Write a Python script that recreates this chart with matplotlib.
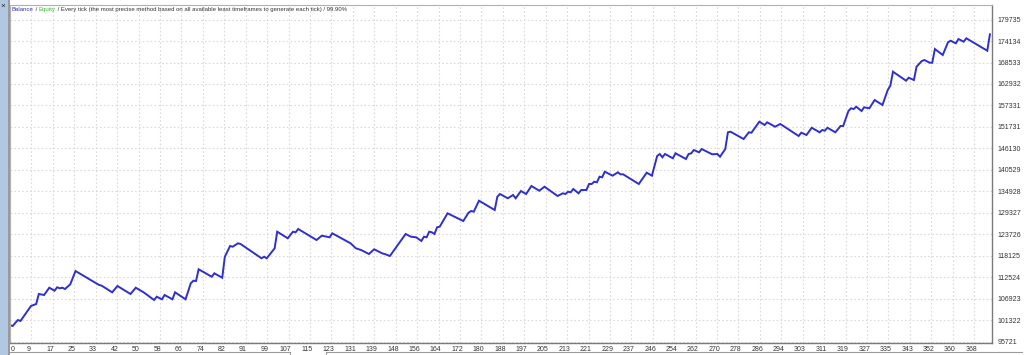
import matplotlib
matplotlib.use("Agg")
import matplotlib.pyplot as plt
from matplotlib.patches import Rectangle
from matplotlib.lines import Line2D
from matplotlib.transforms import ScaledTranslation
import numpy as np

# balance curve vertices (trade number, balance)
trades = [0, 1, 3, 4, 8, 10, 11, 13, 15, 17, 18, 19, 20, 21, 23, 25, 34, 35, 39, 41,
          46, 48, 51, 55, 56, 58, 59, 62, 63, 67, 69, 70, 71, 72, 77, 78, 81, 82, 84, 85,
          87, 88, 96, 97, 98, 101, 102, 106, 108, 109, 110, 117, 119, 121, 122, 123, 130, 132, 134, 137,
          139, 142, 143, 145, 151, 153, 155, 157, 158, 159, 160, 161, 162, 163, 164, 167, 173, 175, 176, 177,
          179, 185, 186, 187, 190, 192, 193, 195, 197, 199, 202, 204, 209, 211, 212, 213, 214, 215, 217, 218,
          220, 221, 222, 223, 224, 225, 226, 227, 230, 232, 233, 234, 240, 243, 245, 247, 248, 249, 250, 253,
          254, 258, 259, 260, 261, 263, 264, 268, 270, 271, 273, 274, 275, 280, 282, 283, 286, 288, 289, 292,
          294, 301, 302, 304, 306, 309, 310, 311, 312, 315, 317, 318, 320, 321, 322, 323, 325, 326, 328, 330,
          333, 335, 336, 337, 342, 343, 345, 346, 348, 349, 351, 352, 353, 356, 358, 359, 361, 362, 364, 365,
          373, 374]
balance = [100000, 99770, 101330, 101070, 104990, 105510, 108120, 107860, 109760, 108980, 109870, 109610, 109760, 109420, 110650, 114120, 110470, 110290, 108560, 110210,
           108120, 109760, 108560, 106550, 107410, 106740, 107860, 106740, 108560, 106740, 110910, 111590, 111510, 114570, 112630, 113520, 112370, 117850, 120650, 120460,
           121350, 121170, 117440, 117850, 117440, 120050, 124380, 122660, 124380, 124220, 125080, 122210, 123340, 123070, 122920, 123960, 121350, 120050, 119600, 118560,
           119790, 118740, 118560, 118040, 123780, 123070, 122920, 121960, 123070, 122920, 124380, 124220, 123780, 125530, 125680, 129180, 127170, 129340, 129780, 129600,
           132470, 130040, 133510, 134220, 133100, 133960, 133100, 135000, 134220, 136310, 135080, 136120, 133700, 134400, 134220, 134820, 134660, 135520, 134400, 135260,
           135260, 136830, 136830, 137430, 137270, 138730, 138580, 140040, 139000, 139880, 139360, 139360, 136830, 139780, 139000, 144140, 144660, 143800, 144660, 143540,
           144840, 143350, 144660, 144840, 145700, 145100, 145960, 144580, 144660, 143950, 145960, 150320, 150480, 148570, 150320, 150220, 153090, 152230, 152930, 151780,
           152490, 149360, 150220, 149620, 151520, 150320, 150920, 150740, 151520, 150320, 151970, 151970, 155880, 156590, 156400, 157000, 155880, 156850, 156590, 158750,
           157450, 161360, 162490, 166140, 163790, 164570, 163970, 167440, 168930, 169190, 168490, 168490, 172060, 170500, 173810, 174230, 173550, 174670, 173970, 174860,
           171620, 175900]

y_ticks = [95721, 101322, 106923, 112524, 118125, 123726, 129327, 134928, 140529, 146130,
           151731, 157331, 162932, 168533, 174134, 179735]
x_labels = [0, 9, 17, 25, 33, 42, 50, 58, 66, 74, 82, 91, 99, 107, 115, 123, 131, 139, 148, 156,
            164, 172, 180, 188, 197, 205, 213, 221, 229, 237, 246, 254, 262, 270, 278, 286, 294, 303,
            311, 319, 327, 335, 343, 352, 360, 368]

plt.rcParams['font.family'] = ['Liberation Sans', 'DejaVu Sans']

W, H = 1024, 355
fig = plt.figure(figsize=(W / 100, H / 100), dpi=100, facecolor="white")
ax = fig.add_axes([10 / W, 12 / H, 982 / W, 338 / H])

ax.plot(trades, balance, color="#2f2fcc", lw=1.4, solid_joinstyle="miter")

# regular grid, labels taken from the tester axis
x_pos = np.arange(len(x_labels)) * x_labels[-1] / (len(x_labels) - 1)
ax.set_xticks(x_pos)
ax.set_xticklabels([str(v) for v in x_labels])
ax.set_yticks(y_ticks)
ax.set_yticklabels([str(v) for v in y_ticks])
ax.set_xlim(0, 374.8)
ax.set_ylim(95330, 183550)

ax.yaxis.tick_right()
ax.tick_params(axis="both", labelsize=5, colors="#333333", length=0)
ax.tick_params(axis="y", pad=4)
ax.tick_params(axis="x", pad=2)
for i, lab in enumerate(ax.get_xticklabels()):
    dx = 2 if i == 0 else -2
    lab.set_transform(lab.get_transform() + ScaledTranslation(dx / 72, 0, fig.dpi_scale_trans))

ax.grid(True, color="#dadada", lw=0.8, linestyle=(0, (1.5, 2)))
ax.set_axisbelow(True)
for side in ["left", "top"]:
    ax.spines[side].set_color("#b0b0b0")
for side in ["right", "bottom"]:
    ax.spines[side].set_color("#7a7a7a")
    ax.spines[side].set_linewidth(1.0)

# legend line inside the chart
fs = 4.3
t1 = ax.text(2 / 982, 1 - 2 / 338, "Balance", transform=ax.transAxes, fontsize=fs,
             color="#3030a0", va="top", ha="left")
t2 = ax.annotate(" / ", xy=(1, 0), xycoords=t1, fontsize=fs, color="#333333", va="bottom")
t3 = ax.annotate("Equity", xy=(1, 0), xycoords=t2, fontsize=fs, color="#2eb82e", va="bottom")
ax.annotate(" / Every tick (the most precise method based on all available least timeframes to generate each tick) / 99.90%",
            xy=(1, 0), xycoords=t3, fontsize=fs, color="#333333", va="bottom")

# window frame bits of the tester screenshot
fig.patches.append(Rectangle((0, 0), 8 / W, 1, transform=fig.transFigure,
                             facecolor="#b2c8e2", edgecolor="none"))
fig.patches.append(Rectangle((8 / W, 0), 2 / W, 1, transform=fig.transFigure,
                             facecolor="#9a9a9a", edgecolor="none"))
fig.text(3 / W, 1 - 6 / H, "×", fontsize=6, ha="center", va="center", color="#222222")
fig.lines.append(Line2D([10 / W, 290 / W], [3 / H, 3 / H], transform=fig.transFigure,
                        color="#9a9a9a", lw=0.8))
fig.lines.append(Line2D([326 / W, 1 - 2 / W], [3 / H, 3 / H], transform=fig.transFigure,
                        color="#9a9a9a", lw=0.8))
fig.lines.append(Line2D([290 / W, 290 / W], [0, 3 / H], transform=fig.transFigure,
                        color="#9a9a9a", lw=0.8))
fig.lines.append(Line2D([326 / W, 326 / W], [0, 3 / H], transform=fig.transFigure,
                        color="#9a9a9a", lw=0.8))

fig.savefig("out.png", dpi=100)
